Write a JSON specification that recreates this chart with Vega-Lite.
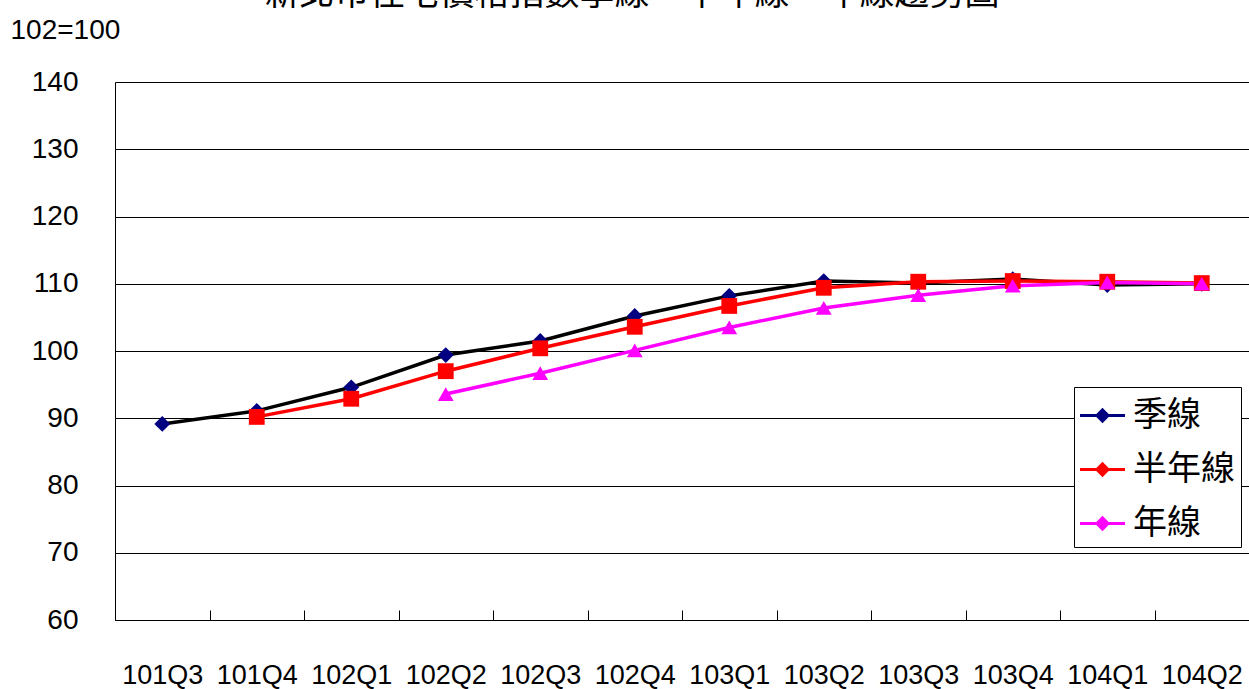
{
  "$schema": "https://vega.github.io/schema/vega-lite/v6.json",
  "width": 1134,
  "height": 538,
  "autosize": {"type": "none"},
  "padding": {"left": 115, "top": 82, "right": 0, "bottom": 69},
  "background": "white",
  "title": {
    "text": "新北市住宅價格指數季線、半年線、年線趨勢圖",
    "font": "Noto Sans CJK TC",
    "fontSize": 35,
    "fontWeight": "normal",
    "color": "black",
    "anchor": "middle",
    "offset": 4,
    "dx": -50
  },
  "config": {
    "view": {"stroke": null},
    "font": "Liberation Sans, Arial"
  },
  "data": {
    "values": [
      {"q": "101Q3", "series": "季線", "v": 89.15},
      {"q": "101Q4", "series": "季線", "v": 91.1},
      {"q": "102Q1", "series": "季線", "v": 94.6},
      {"q": "102Q2", "series": "季線", "v": 99.4},
      {"q": "102Q3", "series": "季線", "v": 101.5},
      {"q": "102Q4", "series": "季線", "v": 105.2},
      {"q": "103Q1", "series": "季線", "v": 108.2},
      {"q": "103Q2", "series": "季線", "v": 110.4},
      {"q": "103Q3", "series": "季線", "v": 110.1},
      {"q": "103Q4", "series": "季線", "v": 110.7},
      {"q": "104Q1", "series": "季線", "v": 109.8},
      {"q": "104Q2", "series": "季線", "v": 110.0},
      {"q": "101Q4", "series": "半年線", "v": 90.2},
      {"q": "102Q1", "series": "半年線", "v": 92.9},
      {"q": "102Q2", "series": "半年線", "v": 97.0},
      {"q": "102Q3", "series": "半年線", "v": 100.4},
      {"q": "102Q4", "series": "半年線", "v": 103.6},
      {"q": "103Q1", "series": "半年線", "v": 106.7},
      {"q": "103Q2", "series": "半年線", "v": 109.4},
      {"q": "103Q3", "series": "半年線", "v": 110.3},
      {"q": "103Q4", "series": "半年線", "v": 110.4},
      {"q": "104Q1", "series": "半年線", "v": 110.3},
      {"q": "104Q2", "series": "半年線", "v": 110.1},
      {"q": "102Q2", "series": "年線", "v": 93.6},
      {"q": "102Q3", "series": "年線", "v": 96.7},
      {"q": "102Q4", "series": "年線", "v": 100.1},
      {"q": "103Q1", "series": "年線", "v": 103.5},
      {"q": "103Q2", "series": "年線", "v": 106.4},
      {"q": "103Q3", "series": "年線", "v": 108.3},
      {"q": "103Q4", "series": "年線", "v": 109.7},
      {"q": "104Q1", "series": "年線", "v": 110.2},
      {"q": "104Q2", "series": "年線", "v": 110.0}
    ]
  },
  "encoding": {
    "x": {
      "field": "q",
      "type": "ordinal",
      "sort": null,
      "scale": {
        "type": "band",
        "domain": ["101Q3","101Q4","102Q1","102Q2","102Q3","102Q4","103Q1","103Q2","103Q3","103Q4","104Q1","104Q2"],
        "paddingInner": 0,
        "paddingOuter": 0
      },
      "axis": {
        "title": null,
        "labelAngle": 0,
        "labelFontSize": 27,
        "labelColor": "black",
        "labelPadding": 52,
        "labelBaseline": "top",
        "tickBand": "extent",
        "ticks": true,
        "tickSize": -10,
        "tickColor": "black",
        "tickWidth": 1,
        "domain": true,
        "domainColor": "black",
        "domainWidth": 1,
        "grid": false
      }
    },
    "y": {
      "field": "v",
      "type": "quantitative",
      "scale": {"domain": [60, 140], "nice": false, "zero": false},
      "axis": {
        "values": [60, 70, 80, 90, 100, 110, 120, 130, 140],
        "title": "102=100",
        "titleAngle": 0,
        "titleX": -105,
        "titleY": -52,
        "titleAlign": "left",
        "titleBaseline": "middle",
        "titleFontSize": 28,
        "titleFontWeight": "normal",
        "titleColor": "black",
        "labelFontSize": 28,
        "labelColor": "black",
        "labelPadding": 37,
        "ticks": false,
        "domain": true,
        "domainColor": "black",
        "domainWidth": 1,
        "grid": true,
        "gridColor": "black",
        "gridWidth": 1
      }
    }
  },
  "layer": [
    {
      "mark": {"type": "line", "strokeWidth": 3.5},
      "encoding": {
        "stroke": {
          "field": "series",
          "type": "nominal",
          "scale": {"range": ["#FF0000", "#000000", "#FF00FF"]},
          "legend": null
        },
        "detail": {"field": "series"}
      }
    },
    {
      "mark": {"type": "point", "filled": true, "opacity": 1, "size": 250},
      "encoding": {
        "color": {
          "field": "series",
          "type": "nominal",
          "scale": {"domain": ["季線", "半年線", "年線"], "range": ["#000080", "#FF0000", "#FF00FF"]},
          "legend": {
            "title": null,
            "orient": "none",
            "legendX": 959,
            "legendY": 305,
            "strokeColor": "black",
            "fillColor": "white",
            "padding": 6,
            "rowPadding": 14,
            "symbolSize": 2025,
            "symbolStrokeWidth": 0,
            "symbolType": "M-1,-0.07H1V0.07H-1Z M0,-0.34L0.34,0L0,0.34L-0.34,0Z",
            "labelOffset": 8,
            "labelFont": "Noto Sans CJK TC",
            "labelFontSize": 34,
            "labelColor": "black"
          }
        },
        "shape": {
          "field": "series",
          "type": "nominal",
          "scale": {"range": ["square", "diamond", "triangle-up"]},
          "legend": null
        }
      }
    }
  ]
}
